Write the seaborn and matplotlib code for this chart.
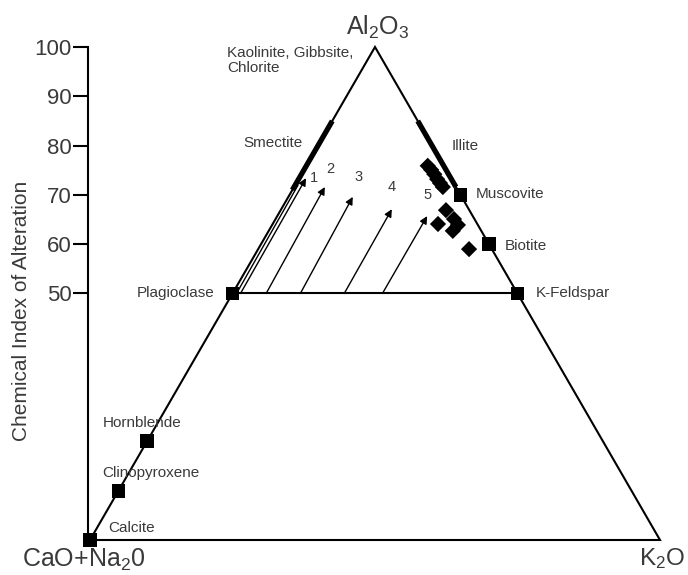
import numpy as np
import matplotlib
matplotlib.use("Agg")
import matplotlib.pyplot as plt
import seaborn as sns

# ---------------- data (ternary %: A = Al2O3, K = K2O, CN = 100 - A - K) ----------------
mineral_names = ["Calcite", "Clinopyroxene", "Hornblende", "Plagioclase",
                 "K-Feldspar", "Biotite", "Muscovite"]
mineral_A = [0, 10, 20, 50, 50, 60, 70]
mineral_K = [0, 0, 0, 0, 50, 40, 30]

sample_A = [75.9, 75.1, 74.2, 73.2, 72.4, 71.6, 66.9, 64.1, 65.1, 63.9, 62.7, 59.0]
sample_K = [21.3, 22.3, 23.3, 24.3, 25.2, 26.1, 29.0, 29.0, 31.3, 32.6, 32.3, 37.0]

arrow_labels = ["1", "2", "3", "4", "5"]
arrow_A_start = [50, 50, 50, 50, 50]
arrow_K_start = [1.4, 5.9, 11.9, 19.6, 26.3]
arrow_A_end = [73.4, 71.6, 69.6, 67.1, 65.7]
arrow_K_end = [1.2, 5.4, 11.3, 19.4, 26.3]

trend_A = [50, 72]          # extra line next to arrow 1
trend_K = [0.7, 0.5]

smectite_A = [71.0, 85.0]   # on the A–CN edge
illite_A = [71.6, 85.0]     # on the A–K edge

cia_ticks = [50, 60, 70, 80, 90, 100]


def tx(A, K):
    return np.asarray(K, dtype=float) + np.asarray(A, dtype=float) / 2.0


# ---------------- figure ----------------
sns.set_style("white")
plt.rcParams["font.family"] = ["Liberation Sans", "DejaVu Sans"]
plt.rcParams["mathtext.default"] = "regular"

txt = "#3a3a3a"
fig = plt.figure(figsize=(6.88, 5.75), dpi=100)
ax = fig.add_axes([88 / 688, 0, 600 / 688, 1])
ax.set_xlim(-0.3509, 104.912)
ax.set_ylim(-7.099, 109.533)

for s in ["top", "right", "bottom"]:
    ax.spines[s].set_visible(False)
ax.spines["left"].set_bounds(0, 100)
ax.spines["left"].set_linewidth(1.5)
ax.spines["left"].set_color("black")
ax.set_xticks([])
ax.set_yticks(cia_ticks)
ax.set_yticklabels([str(t) for t in cia_ticks])
ax.tick_params(axis="y", direction="out", length=11, width=1.5, pad=1,
               labelsize=16, labelcolor=txt, color="black", left=True)
ax.set_ylabel("Chemical Index of Alteration", fontsize=15, color=txt, va="center")
ax.yaxis.set_label_coords((22 - 88) / 600, (575 - 311) / 575)

# triangle
vA = [0, 0, 100, 0]
vK = [0, 100, 0, 0]
ax.plot(tx(vA, vK), vA, color="black", lw=1.5, solid_joinstyle="miter")
# plagioclase – K-feldspar join
ax.plot(tx([50, 50], [0, 50]), [50, 50], color="black", lw=1.5)

# smectite & illite bands
ax.plot(tx(smectite_A, [0, 0]), smectite_A, color="black", lw=3.8, solid_capstyle="butt")
ax.plot(tx(illite_A, [100 - a for a in illite_A]), illite_A, color="black", lw=3.8,
        solid_capstyle="butt")

# trend line & arrows
ax.plot(tx(trend_A, trend_K), trend_A, color="black", lw=1.0)
label_off = [(6, 0), (4, 8), (4, 9), (0, 11), (0, 10)]
for i, lab in enumerate(arrow_labels):
    xs, ys = tx(arrow_A_start[i], arrow_K_start[i]), arrow_A_start[i]
    xe, ye = tx(arrow_A_end[i], arrow_K_end[i]), arrow_A_end[i]
    ax.annotate("", xy=(xe, ye), xytext=(xs, ys),
                arrowprops=dict(arrowstyle="-|>", lw=1.0, color="black",
                                mutation_scale=11, shrinkA=0, shrinkB=0))
    ax.annotate(lab, xy=(xe, ye), xytext=label_off[i], textcoords="offset points",
                fontsize=10.5, color=txt, ha="center", va="bottom" if i else "center")

# minerals (squares) and samples (diamonds)
sns.scatterplot(x=tx(mineral_A, mineral_K), y=mineral_A, marker="s", s=100,
                color="black", edgecolor="none", ax=ax, zorder=5, clip_on=False)
sns.scatterplot(x=tx(sample_A, sample_K), y=sample_A, marker="D", s=68,
                color="black", edgecolor="none", ax=ax, zorder=5)

# mineral labels (offsets in points)
lab_off = {
    "Calcite": (13, 9, "left"),
    "Clinopyroxene": (-11.5, 13, "left"),
    "Hornblende": (-32, 13.5, "left"),
    "Plagioclase": (-13, 0, "right"),
    "K-Feldspar": (13, 0, "left"),
    "Biotite": (11.5, -1.5, "left"),
    "Muscovite": (11, 0.7, "left"),
}
for name, a, k in zip(mineral_names, mineral_A, mineral_K):
    dx, dy, ha = lab_off[name]
    ax.annotate(name, xy=(tx(a, k), a), xytext=(dx, dy), textcoords="offset points",
                fontsize=11, color=txt, ha=ha, va="center")

ax.text(26.84, 80.5, "Smectite", fontsize=11, color=txt, ha="left", va="center")
ax.text(63.5, 79.9, "Illite", fontsize=11, color=txt, ha="left", va="center")
ax.text(24.0, 97.3, "Kaolinite, Gibbsite,\nChlorite", fontsize=11, color=txt,
        ha="left", va="center", linespacing=1.05)

# vertex labels
ax.text(50.4, 102.4, "Al$_2$O$_3$", fontsize=18, color=txt, ha="center", va="baseline")
ax.text(-11.93, -5.4, "CaO+Na$_2$0", fontsize=18, color=txt, ha="left", va="baseline",
        clip_on=False)
ax.text(96.4, -5.0, "K$_2$O", fontsize=17.5, color=txt, ha="left", va="baseline")

fig.savefig("out.png", dpi=100)
